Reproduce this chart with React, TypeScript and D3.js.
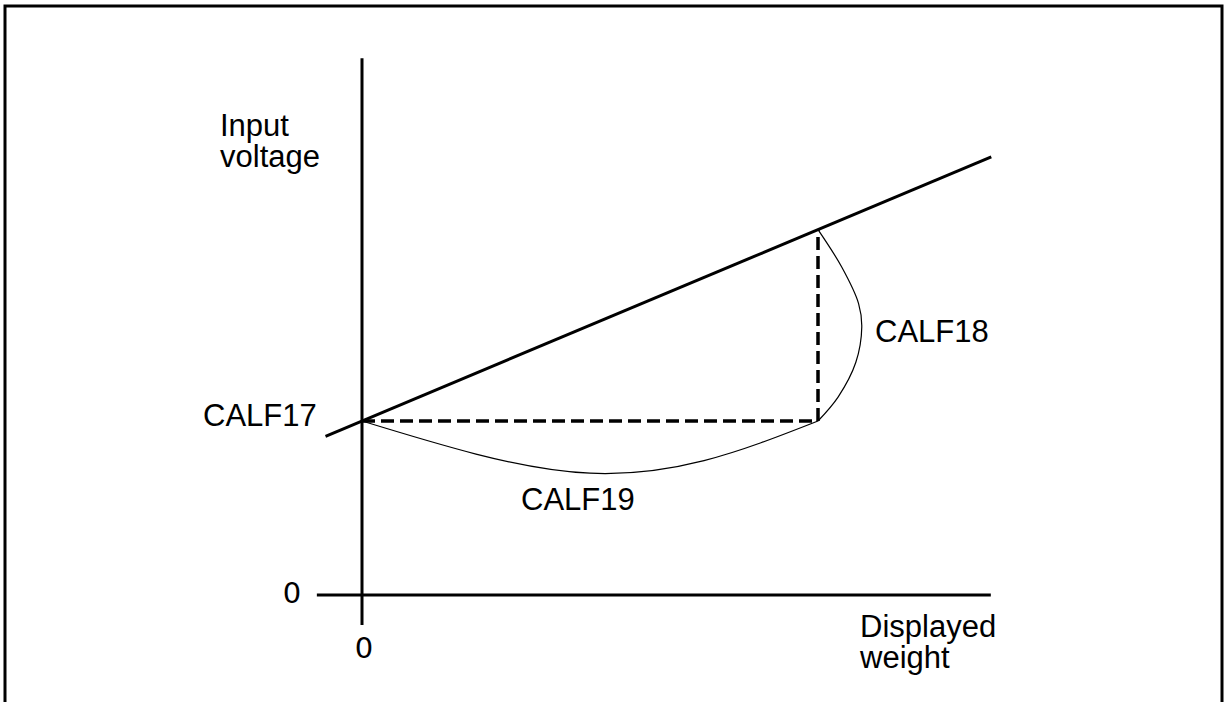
import * as d3 from "d3";

// calibration points, in displayed weight (0..100 = calibration span) and input voltage units
const zeroWeight = 0;
const spanWeight = 100;
const calf17 = 40; // voltage at zero weight
const calf18Top = 84; // voltage at span weight

const weightAxis = [-9.9, 137.9];
const voltageAxis = [-6.9, 123.4];
const lineWeights = [-8, 138];

// hand-traced curves
const calf19Curve: Array<[number, number]> = [
  [0, 40], [25, 32.4], [50, 28], [75, 30.9], [100, 40],
];
const calf18Curve: Array<[number, number]> = [
  [100, 84], [105.2, 75.4], [108.9, 67], [109.6, 61.6], [108.3, 53.5], [104.4, 45.5], [100, 40],
];

const W = 1224;
const H = 702;

export default function App() {
  const x = d3.scaleLinear().domain([zeroWeight, spanWeight]).range([362, 818]);
  const y = d3.scaleLinear().domain([0, calf17]).range([595, 421]);

  const slope = (calf18Top - calf17) / (spanWeight - zeroWeight);
  const volt = (w: number) => calf17 + slope * (w - zeroWeight);

  const line = d3
    .line<[number, number]>()
    .x((d) => x(d[0]))
    .y((d) => y(d[1]));

  const font = "'Liberation Sans', Arial, sans-serif";
  const zeroFont = "'DejaVu Sans', sans-serif";

  return (
    <svg
      width={W}
      height={H}
      style={{ position: "absolute", left: 0, top: 0, display: "block", background: "#fff" }}
    >
      <rect x={5} y={6} width={1217} height={720} fill="none" stroke="#000" strokeWidth={3} />

      {/* axes */}
      <line x1={x(weightAxis[0])} x2={x(weightAxis[1])} y1={y(0)} y2={y(0)} stroke="#000" strokeWidth={3} />
      <line x1={x(0)} x2={x(0)} y1={y(voltageAxis[0])} y2={y(voltageAxis[1])} stroke="#000" strokeWidth={3} />

      {/* calibration line */}
      <line
        x1={x(lineWeights[0])}
        y1={y(volt(lineWeights[0]))}
        x2={x(lineWeights[1])}
        y2={y(volt(lineWeights[1]))}
        stroke="#000"
        strokeWidth={3}
      />

      {/* dashed legs */}
      <path
        d={`M${x(zeroWeight)},${y(calf17)}H${x(spanWeight)}V${y(calf18Top)}`}
        fill="none"
        stroke="#000"
        strokeWidth={3.5}
        strokeDasharray="13,6"
      />

      <path d={line.curve(d3.curveNatural)(calf19Curve) || ""} fill="none" stroke="#000" strokeWidth={1.2} />
      <path d={line.curve(d3.curveCatmullRom.alpha(0.5))(calf18Curve) || ""} fill="none" stroke="#000" strokeWidth={1.2} />

      <g fontFamily={font} fontSize={31} fill="#000">
        <text x={220} y={136}>Input</text>
        <text x={220} y={167}>voltage</text>
        <text x={203} y={426}>CALF17</text>
        <text x={875} y={342}>CALF18</text>
        <text x={521} y={510}>CALF19</text>
        <text x={860} y={637}>Displayed</text>
        <text x={860} y={668}>weight</text>
      </g>
      <g fontFamily={zeroFont} fontSize={29} fill="#000" textAnchor="middle">
        <text x={292} y={603}>0</text>
        <text x={364} y={658}>0</text>
      </g>
    </svg>
  );
}
